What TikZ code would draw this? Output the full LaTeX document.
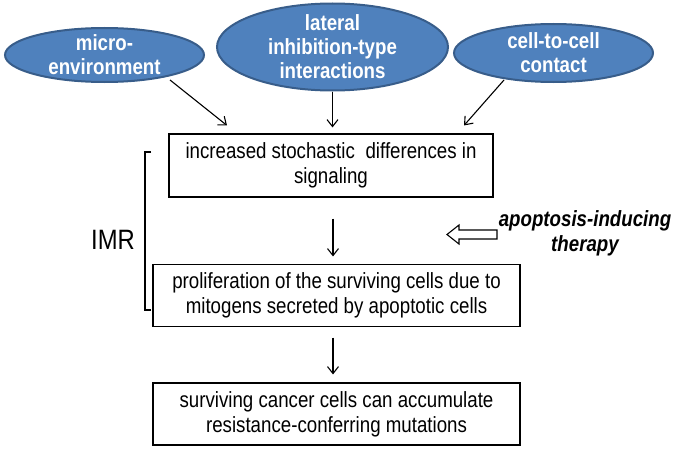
\documentclass[tikz,border=0pt]{standalone}
\usepackage{fontspec}
\setmainfont{Liberation Sans}[FakeStretch=0.85]
\usetikzlibrary{arrows.meta,shapes.geometric}
\definecolor{ellfill}{HTML}{4F81BD}
\definecolor{elldraw}{HTML}{385D8A}
\tikzset{
  ell/.style={ellipse, fill=ellfill, draw=elldraw, line width=2pt, inner sep=0pt},
  elltext/.style={text=white, font=\fontsize{22}{24}\selectfont\bfseries, align=center, inner sep=0pt},
  box/.style={rectangle, draw=black, line width=1.1pt, inner sep=0pt, align=center,
              font=\fontsize{22}{25}\selectfont},
  arr/.style={line width=1.1pt, -{Straight Barb[length=7pt,width=11pt,line width=1.1pt]}},
}
\begin{document}
\begin{tikzpicture}[x=1pt,y=-1pt]
\useasboundingbox (0,0) rectangle (682,452);
% ellipses
\node[ell, minimum width=199pt, minimum height=54pt] (micro) at (104.5,55) {};
\node[elltext] (microtxt) at (micro.center) {micro-\\environment};
\node[ell, minimum width=231pt, minimum height=87pt] (lat) at (332.5,47) {};
\node[elltext] (lattxt) at (lat.center) {lateral\\inhibition-type\\interactions};
\node[ell, minimum width=199pt, minimum height=58pt] (cell) at (553.5,53) {};
\node[elltext] (celltxt) at (cell.center) {cell-to-cell\\contact};
% boxes
\node[box, minimum width=324pt, minimum height=63pt] (box1) at (331,165.5)
  {increased stochastic\hspace{0.25em} differences in\\signaling};
\node[box, minimum width=367pt, minimum height=62pt] (box2) at (336.5,295.5)
  {proliferation of the surviving cells due to\\mitogens secreted by apoptotic cells};
\node[box, minimum width=367pt, minimum height=62pt] (box3) at (336.5,414)
  {surviving cancer cells can accumulate\\resistance-conferring mutations};
% side labels
\node[font=\fontsize{28}{30}\selectfont, inner sep=0pt] (imr) at (113,240) {IMR};
\node[font=\fontsize{22}{25}\selectfont\bfseries\itshape, align=center, inner sep=0pt] (ther) at (585,233)
  {apoptosis-inducing\\therapy};
% arrows from ellipses
\draw[arr] ([xshift=65.5pt,yshift=-25pt]micro.center) -- ([xshift=-104pt,yshift=8pt]box1.north);
\coordinate (e2) at ([yshift=6pt]box1.north);
\draw[arr] (lat.south) -- (e2 -| lat.south);
\draw[arr] ([xshift=-49.5pt,yshift=-27pt]cell.center) -- ([xshift=133pt,yshift=8pt]box1.north);
% vertical arrows
\draw[arr] ([xshift=2pt,yshift=-21pt]box1.south) -- ([xshift=-3.5pt,yshift=7.5pt]box2.north);
\draw[arr] ([xshift=-3.5pt,yshift=-10.5pt]box2.south) -- ([xshift=-3.5pt,yshift=8pt]box3.north);
% bracket
\draw[line width=1.1pt] (151,152) -- (145,152) -- (145,310) -- (151,310);
% hollow arrow
\coordinate (ha) at (497,234.5);
\draw[line width=1.1pt, fill=white] (ha) ++(0,-4.5) -- ++(-38,0) -- ++(0,-5) -- (447,234.5)
  -- (459,244) -- ++(0,-5) -- (ha |- 0,239) -- cycle;
\end{tikzpicture}
\end{document}
